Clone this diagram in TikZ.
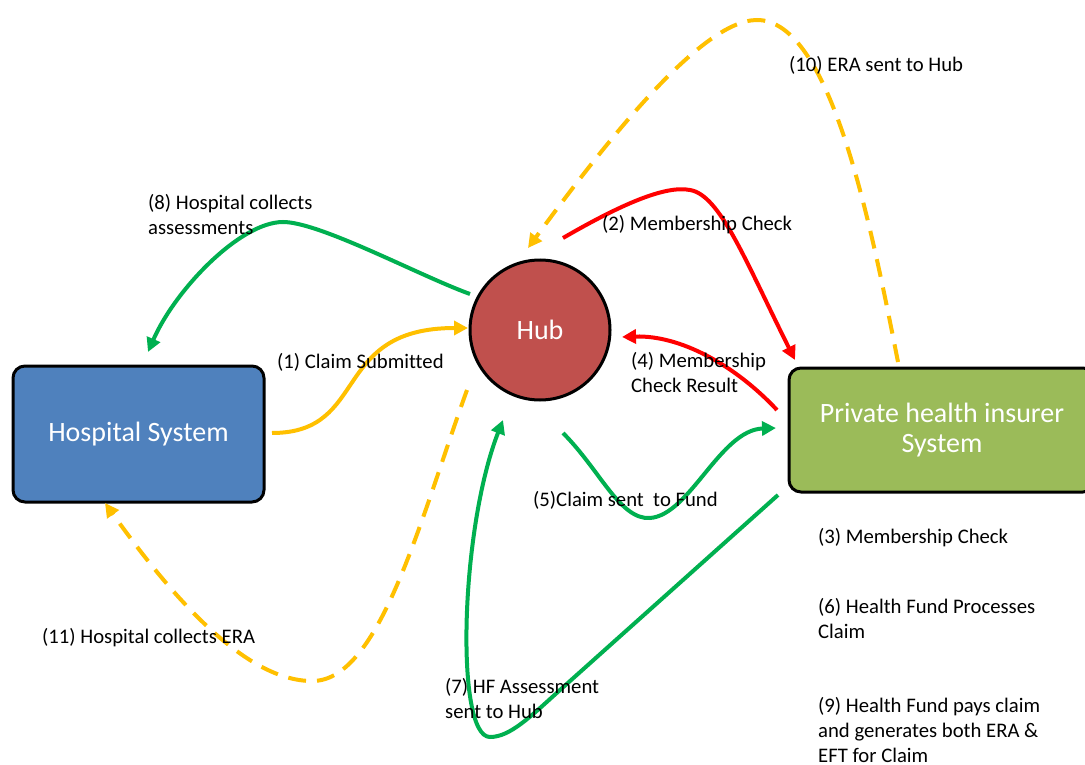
\documentclass[tikz,border=0pt]{standalone}
\usepackage{fontspec}
\setmainfont{Carlito}[Ligatures=NoCommon]
\usetikzlibrary{arrows.meta}
\definecolor{hospblue}{HTML}{4F81BD}
\definecolor{hubred}{HTML}{C0504D}
\definecolor{insgreen}{HTML}{9BBB59}
\definecolor{aorange}{HTML}{FFC000}
\definecolor{ared}{HTML}{FF0000}
\definecolor{agreen}{HTML}{00B050}
\begin{document}
\begin{tikzpicture}[x=1pt,y=-1pt,
  sysbox/.style={draw=black, line width=3pt, rounded corners=12pt, text=white,
    font=\fontsize{28}{30}\selectfont, align=center, inner sep=0pt},
  lbl/.style={anchor=base west, inner sep=0pt, align=left,
    font=\fontsize{20.7}{25}\selectfont, text=black},
  flow/.style={line width=4pt, -{Triangle[length=14pt,width=14pt]}},
  dsh/.style={flow, dash pattern=on 18pt off 11pt}]
\useasboundingbox (0,0) rectangle (1085,765);
\fill[white] (0,0) rectangle (1085,765);

% nodes
\node[sysbox, fill=hospblue, minimum width=251pt, minimum height=136pt] (hosp) at (138.5,434) {Hospital System};
\node[sysbox, fill=insgreen, minimum width=306pt, minimum height=124pt] (ins) at (942,430) {Private health insurer\\System};
\node[draw=black, line width=3pt, circle, fill=hubred, minimum size=140pt, inner sep=0pt,
  text=white, font=\fontsize{28}{30}\selectfont] (hub) at (540,330) {Hub};

% connector end points
\coordinate (c1s) at (272,433);
\coordinate (c1e) at (468,328);
\coordinate (c2s) at (563,238);
\coordinate (c2e) at (795,360);
\coordinate (c4s) at (777,410);
\coordinate (c4e) at (622,337);
\coordinate (c5s) at (563,433);
\coordinate (c5e) at (776,428);
\coordinate (c7s) at (778,495);
\coordinate (c7e) at (503,420);
\coordinate (c8s) at (470,294);
\coordinate (c8e) at (148,352);
\coordinate (c10s) at (898,362);
\coordinate (c10e) at (528,248);
\coordinate (c11s) at (467,390);
\coordinate (c11e) at (105,503);

% (1) claim submitted
\draw[flow, aorange] (c1s) .. controls (370,433) and (330,328) .. (c1e);
% (2) membership check
\draw[flow, ared] (c2s) .. controls (620,205) and (665,185) .. (690,190)
  .. controls (720,195) and (745,260) .. (c2e);
% (4) membership check result
\draw[flow, ared] (c4s) .. controls (735,365) and (680,335) .. (c4e);
% (5) claim sent to fund
\draw[flow, agreen] (c5s) .. controls (600,470) and (620,520) .. (650,518)
  .. controls (690,515) and (720,430) .. (c5e);
% (7) HF assessment sent to hub
\draw[flow, agreen] (c7s) -- (560,690) .. controls (530,717) and (510,737) .. (490,737)
  .. controls (455,737) and (460,530) .. (c7e);
% (8) hospital collects assessments
\draw[flow, agreen] (c8s) .. controls (420,276) and (320,222) .. (283,222)
  .. controls (240,222) and (175,290) .. (c8e);
% (10) ERA sent to hub
\draw[dsh, aorange] (c10s) .. controls (870,220) and (830,20) .. (757,20)
  .. controls (700,20) and (600,150) .. (c10e);
% (11) hospital collects ERA
\draw[dsh, aorange] (c11s) .. controls (420,520) and (380,680) .. (313,681)
  .. controls (240,682) and (160,580) .. (c11e);

% labels (anchor at baseline of the last line)
\node[lbl] (l1) at (277,368) {(1) Claim Submitted};
\node[lbl] (l2) at (602,230) {(2) Membership Check};
\node[lbl] (l4) at (631,392) {(4) Membership\\Check Result};
\node[lbl] (l5) at (533,506) {(5)Claim sent\ \ to Fund};
\node[lbl] (l7) at (445,718) {(7) HF Assessment\\sent to Hub};
\node[lbl] (l8) at (148,234) {(8) Hospital collects\\assessments};
\node[lbl] (l10) at (789,72) {(10) ERA sent to Hub};
\node[lbl] (l11) at (42,643) {(11) Hospital collects ERA};
\node[lbl] (l3) at (818,543) {(3) Membership Check};
\node[lbl] (l6) at (818,638) {(6) Health Fund Processes\\Claim};
\node[lbl] (l9) at (818,762) {(9) Health Fund pays claim\\and generates both ERA \&\\EFT for Claim};
\end{tikzpicture}
\end{document}
